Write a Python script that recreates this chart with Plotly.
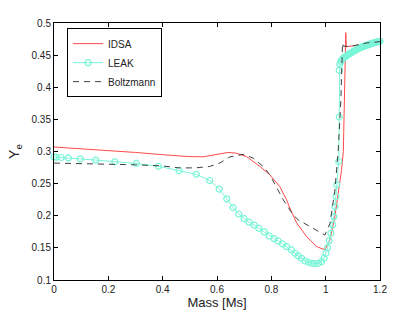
import plotly.graph_objects as go

# IDSA
idsa_x = [0.0, 0.1, 0.2, 0.3, 0.4, 0.5, 0.55, 0.6, 0.641, 0.67, 0.708, 0.758, 0.794,
          0.831, 0.856, 0.868, 0.893, 0.93, 0.967, 0.997, 1.016, 1.034, 1.052, 1.058,
          1.065, 1.068, 1.071, 1.074, 1.076, 1.09, 1.11, 1.15, 1.2]
idsa_y = [0.307, 0.3045, 0.302, 0.2985, 0.295, 0.292, 0.2918, 0.295, 0.2985, 0.2975,
          0.2923, 0.2767, 0.264, 0.2455, 0.2248, 0.212, 0.189, 0.1675, 0.152, 0.147,
          0.1624, 0.1987, 0.2508, 0.27, 0.30, 0.36, 0.42, 0.485, 0.463, 0.4635, 0.465,
          0.468, 0.471]

# LEAK
leak_x = [0.0, 0.008, 0.0265, 0.053, 0.0966, 0.154, 0.224, 0.303, 0.384, 0.460, 0.524,
          0.573, 0.608, 0.636, 0.659, 0.680, 0.700, 0.718, 0.737, 0.754, 0.774, 0.792,
          0.810, 0.825, 0.841, 0.856, 0.874, 0.887, 0.899, 0.911, 0.924, 0.936, 0.948,
          0.960, 0.973, 0.985, 0.994, 1.001, 1.007, 1.013, 1.019, 1.026, 1.030, 1.034,
          1.038, 1.041, 1.048, 1.050, 1.050,
          1.052, 1.056, 1.060, 1.065, 1.070, 1.075, 1.080, 1.085, 1.090, 1.095, 1.100,
          1.105, 1.110, 1.115, 1.120, 1.125, 1.130, 1.135, 1.140, 1.145, 1.150, 1.155,
          1.160, 1.165, 1.170, 1.175, 1.180, 1.185, 1.190, 1.195, 1.200]
leak_y = [0.2914, 0.2912, 0.2907, 0.2900, 0.2885, 0.2866, 0.2840, 0.2814, 0.2770, 0.2704,
          0.2645, 0.2549, 0.2414, 0.2263, 0.2128, 0.2027, 0.1955, 0.1900, 0.1855, 0.1805,
          0.1749, 0.1686, 0.1644, 0.1608, 0.1561, 0.1520, 0.1468, 0.1416, 0.1374, 0.1338,
          0.1296, 0.1276, 0.1260, 0.1254, 0.1260, 0.1285, 0.1338, 0.1416, 0.1504, 0.1613,
          0.1728, 0.1858, 0.1987, 0.2143, 0.2300, 0.2482, 0.2845, 0.3537, 0.4264,
          0.436, 0.440, 0.443, 0.4455, 0.447, 0.4485, 0.450, 0.4513, 0.4527, 0.454, 0.4553,
          0.4565, 0.4577, 0.4588, 0.460, 0.461, 0.462, 0.4628, 0.4636, 0.4644, 0.4652,
          0.466, 0.4668, 0.4675, 0.4682, 0.4688, 0.4694, 0.470, 0.4705, 0.471, 0.4715]

# Boltzmann
boltz_x = [0.0, 0.1, 0.2, 0.3, 0.4, 0.46, 0.52, 0.573, 0.61, 0.647, 0.696, 0.733, 0.770,
           0.794, 0.844, 0.880, 0.899, 0.95, 0.997, 1.016, 1.034, 1.046, 1.056, 1.062,
           1.065, 1.08, 1.11, 1.151, 1.2]
boltz_y = [0.282, 0.2812, 0.2805, 0.2793, 0.2775, 0.2745, 0.2745, 0.2767, 0.282, 0.2915,
           0.2955, 0.2898, 0.2767, 0.264, 0.2248, 0.2014, 0.1936, 0.181, 0.170, 0.188,
           0.24, 0.30, 0.38, 0.469, 0.464, 0.4635, 0.4652, 0.469, 0.471]

x_ticks = [0, 0.2, 0.4, 0.6, 0.8, 1.0, 1.2]
x_tick_text = ["0", "0.2", "0.4", "0.6", "0.8", "1", "1.2"]
y_ticks = [0.1, 0.15, 0.2, 0.25, 0.3, 0.35, 0.4, 0.45, 0.5]
y_tick_text = ["0.1", "0.15", "0.2", "0.25", "0.3", "0.35", "0.4", "0.45", "0.5"]

fig = go.Figure()
fig.add_trace(go.Scatter(x=idsa_x, y=idsa_y, mode="lines", name="IDSA",
                         line=dict(color="#ff4a4a", width=1)))
fig.add_trace(go.Scatter(x=leak_x, y=leak_y, mode="lines+markers", name="LEAK",
                         line=dict(color="#78f5d8", width=1),
                         marker=dict(symbol="circle-open", size=6,
                                     color="#78f5d8", line=dict(width=1.2)),
                         cliponaxis=False))
fig.add_trace(go.Scatter(x=boltz_x, y=boltz_y, mode="lines", name="Boltzmann",
                         line=dict(color="#404040", width=1, dash="6px,5px")))

axis_common = dict(showgrid=False, zeroline=False, showline=True, linecolor="black",
                   linewidth=1, mirror="ticks", ticks="inside", ticklen=4,
                   tickcolor="black", tickfont=dict(size=10, color="#222"),
                   automargin=False)

fig.update_layout(
    width=420, height=316,
    margin=dict(l=54, r=40, t=23, b=36),
    paper_bgcolor="white", plot_bgcolor="white",
    font=dict(family="Liberation Sans, Arial, sans-serif", color="#222"),
    xaxis=dict(range=[0, 1.2], tickvals=x_ticks, ticktext=x_tick_text,
               title=dict(text="Mass [Ms]", font=dict(size=13), standoff=2),
               **axis_common),
    yaxis=dict(range=[0.1, 0.5], tickvals=y_ticks, ticktext=y_tick_text,
               title=dict(text="Y<sub>e</sub>", font=dict(size=14), standoff=8),
               **axis_common),
    legend=dict(x=0.04, y=0.98, xanchor="left", yanchor="top",
                bgcolor="white", bordercolor="black", borderwidth=1,
                font=dict(size=10), tracegroupgap=0, itemwidth=30),
    showlegend=True,
)

fig.write_html("out.html", config={"displayModeBar": False},
               post_script="document.body.style.margin='0';document.body.style.padding='0';")
